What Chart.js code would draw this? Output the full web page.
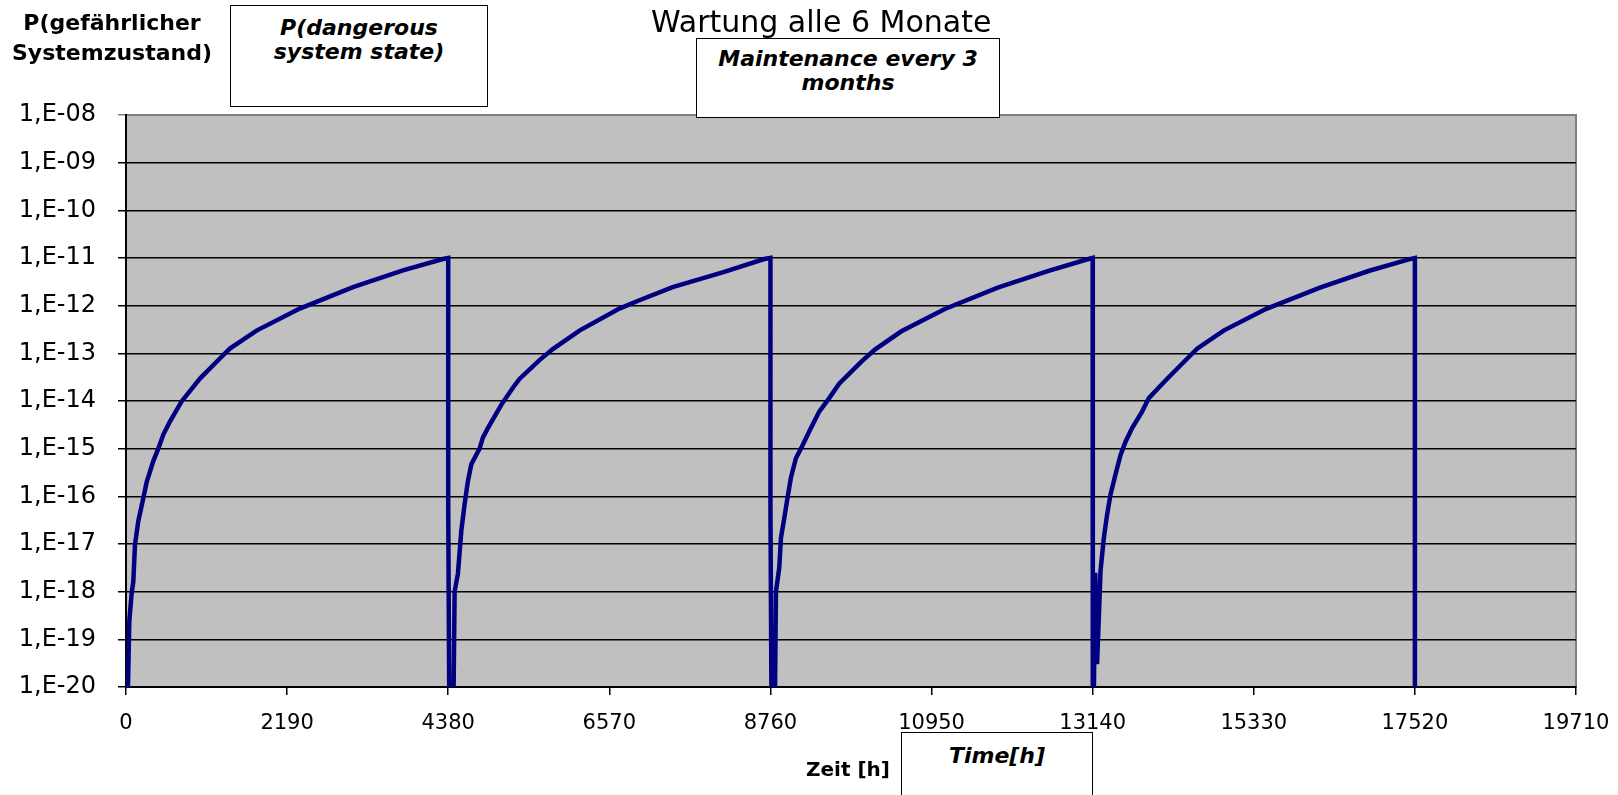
<!DOCTYPE html>
<html>
<head>
<meta charset="utf-8">
<script src="https://cdn.jsdelivr.net/npm/chart.js@4.4.1/dist/chart.umd.min.js"></script>
<style>
  body { margin: 0; background: #fff; }
  #wrap { position: relative; width: 1618px; height: 795px; overflow: hidden; font-family: 'DejaVu Sans', sans-serif; }
  #myChart { position: absolute; left: 0; top: 0; }
  .lbl { position: absolute; color: #000; white-space: nowrap; }
  .box { position: absolute; background: #fff; border: 1.5px solid #000; box-sizing: border-box;
         text-align: center; font-weight: bold; font-style: italic; font-size: 22px; line-height: 24px; }
</style>
</head>
<body>
<div id="wrap">
  <canvas id="myChart" width="1618" height="795"></canvas>
  <div class="lbl" style="left:651px;top:4px;font-size:30px;">Wartung alle 6 Monate</div>
  <div class="lbl" style="left:0px;top:8px;width:224px;text-align:center;font-size:22px;font-weight:bold;line-height:30px;">P(gefährlicher<br>Systemzustand)</div>
  <div class="lbl" style="left:806px;top:757px;font-size:20px;font-weight:bold;">Zeit [h]</div>
  <div class="box" style="left:230px;top:5px;width:258px;height:102px;padding-top:10px;">P(dangerous<br>system state)</div>
  <div class="box" style="left:696px;top:38px;width:304px;height:80px;padding-top:8px;">Maintenance every 3<br>months</div>
  <div class="box" style="left:901px;top:732px;width:192px;height:90px;padding-top:11px;">Time[h]</div>
</div>
<script>
// time in hours
const hours = [
  0, 45, 77, 99, 122, 167, 235, 281, 371, 439, 506, 597, 756, 1005, 1276, 1412, 1775, 2362, 3086, 3765, 4308, 4380,
  4380, 4400, 4440, 4467, 4512, 4558, 4603, 4648, 4694, 4806, 4851, 4919, 5101, 5259, 5349, 5621, 5802, 6164, 6707, 6979, 7431, 8110, 8676, 8760,
  8760, 8780, 8810, 8835, 8880, 8903, 8948, 8992, 9038, 9106, 9174, 9287, 9423, 9559, 9694, 10000, 10180, 10540, 11130, 11850, 12530, 13070, 13140,
  13142, 13175, 13200, 13247, 13292, 13337, 13383, 13451, 13519, 13587, 13676, 13812, 13903, 14150, 14420, 14560, 14920, 15500, 16230, 16900, 17450, 17520,
  17520
];
// P(gefährlicher Systemzustand)
const probability = [
  1e-22, 2.4e-19, 9.3e-19, 1.6e-18, 9.5e-18, 3.0e-17, 9.1e-17, 2.0e-16, 5.5e-16, 1.0e-15, 1.95e-15, 3.7e-15, 9.8e-15, 2.95e-14, 7.8e-14, 1.26e-13, 3.0e-13, 8.7e-13, 2.45e-12, 5.5e-12, 9.5e-12, 1.0e-11,
  6e-17, 1e-22, 1e-22, 1e-18, 2.4e-18, 1.9e-17, 6.9e-17, 2.1e-16, 4.7e-16, 1.0e-15, 1.7e-15, 2.7e-15, 8.3e-15, 1.9e-14, 2.9e-14, 7.2e-14, 1.23e-13, 3.0e-13, 8.7e-13, 1.3e-12, 2.45e-12, 5.0e-12, 9.5e-12, 1.0e-11,
  6e-17, 1e-22, 1e-22, 1e-18, 3.2e-18, 1.35e-17, 3.5e-17, 9.3e-17, 2.45e-16, 6.3e-16, 1.0e-15, 2.3e-15, 6.0e-15, 1.15e-14, 2.3e-14, 6.8e-14, 1.2e-13, 2.9e-13, 8.5e-13, 2.4e-12, 5.3e-12, 9.4e-12, 1.0e-11,
  1e-22, 2.5e-18, 3e-20, 2.75e-18, 1.35e-17, 4.2e-17, 1.1e-16, 2.9e-16, 7.4e-16, 1.4e-15, 2.7e-15, 6.0e-15, 1.15e-14, 2.9e-14, 7.6e-14, 1.25e-13, 3.0e-13, 8.6e-13, 2.4e-12, 5.4e-12, 9.5e-12, 1.0e-11,
  1e-22
];

const xTicks = [0, 2190, 4380, 6570, 8760, 10950, 13140, 15330, 17520, 19710];
const yTicks = [1e-20, 1e-19, 1e-18, 1e-17, 1e-16, 1e-15, 1e-14, 1e-13, 1e-12, 1e-11, 1e-10, 1e-9, 1e-8];
const yTickLabels = ['1,E-20', '1,E-19', '1,E-18', '1,E-17', '1,E-16', '1,E-15', '1,E-14',
                     '1,E-13', '1,E-12', '1,E-11', '1,E-10', '1,E-09', '1,E-08'];

Chart.defaults.font.family = "'DejaVu Sans', sans-serif";
Chart.defaults.color = '#000';

// grey plot background with a grey frame, like the Excel plot area
const plotArea = {
  id: 'plotArea',
  beforeDraw(chart) {
    const a = chart.chartArea;
    const ctx = chart.ctx;
    ctx.save();
    ctx.fillStyle = '#c0c0c0';
    ctx.fillRect(a.left, a.top, a.right - a.left, a.bottom - a.top);
    ctx.strokeStyle = '#808080';
    ctx.lineWidth = 2;
    ctx.strokeRect(a.left, a.top, a.right - a.left, a.bottom - a.top);
    ctx.restore();
  }
};

const ctx = document.getElementById('myChart').getContext('2d');
new Chart(ctx, {
  type: 'line',
  data: {
    datasets: [{
      data: hours.map((h, i) => ({ x: h, y: probability[i] })),
      borderColor: '#000080',
      borderWidth: 4.5,
      pointRadius: 0,
      tension: 0,
      fill: false
    }]
  },
  options: {
    responsive: false,
    animation: false,
    events: [],
    layout: { padding: { top: 115, right: 42, bottom: 0, left: 0 } },
    plugins: { legend: { display: false }, tooltip: { enabled: false }, title: { display: false } },
    scales: {
      x: {
        type: 'linear',
        min: 0,
        max: 19710,
        afterBuildTicks: scale => { scale.ticks = xTicks.map(v => ({ value: v })); },
        afterFit: scale => {
          scale.height = 108;
          // let the layout padding alone decide where the plot ends
          scale.paddingLeft = 0;
          scale.paddingRight = 0;
        },
        ticks: { font: { size: 21 }, padding: 16, maxRotation: 0, autoSkip: false, callback: v => String(v) },
        grid: { drawOnChartArea: false, color: '#000', lineWidth: 1.5, tickLength: 8 },
        border: { color: '#000', width: 2 }
      },
      y: {
        type: 'logarithmic',
        min: 1e-20,
        max: 1e-8,
        afterBuildTicks: scale => { scale.ticks = yTicks.map(v => ({ value: v })); },
        afterFit: scale => { scale.width = 126; },
        ticks: {
          font: { size: 24 },
          padding: 22,
          autoSkip: false,
          callback: v => yTickLabels[yTicks.findIndex(t => Math.abs(Math.log10(t) - Math.log10(v)) < 1e-6)]
        },
        grid: {
          color: c => (c.tick && c.tick.value === 1e-8) ? '#808080' : '#000',
          lineWidth: 1.5,
          tickLength: 8
        },
        border: { color: '#000', width: 2 }
      }
    }
  },
  plugins: [plotArea]
});
</script>
</body>
</html>
